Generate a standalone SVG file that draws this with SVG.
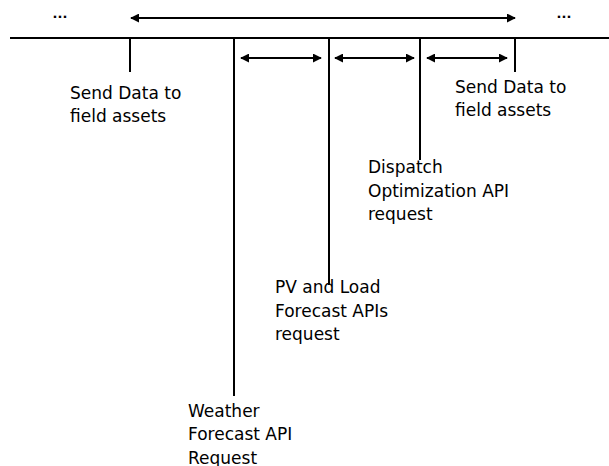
<svg xmlns="http://www.w3.org/2000/svg" width="609" height="466" viewBox="0 0 609 466">
<style>
.ln{stroke:#000;stroke-width:2;fill:none}
.ar{stroke:#000;stroke-width:2;fill:none;marker-start:url(#a);marker-end:url(#a)}
.t{font-family:"DejaVu Sans",sans-serif;font-size:17px;fill:#000}
.d{font-family:"DejaVu Sans",sans-serif;font-size:13px;font-weight:bold;fill:#000;text-anchor:middle}
</style>
<defs>
<marker id="a" viewBox="0 0 10 10" refX="9" refY="5" markerWidth="9" markerHeight="9" markerUnits="userSpaceOnUse" orient="auto-start-reverse">
<path d="M0,0L10,5L0,10z" fill="#000"/>
</marker>
</defs>
<g id="connectors">
<line class="ln" x1="10" y1="38" x2="609" y2="38"/>
<line class="ar" x1="131" y1="18" x2="515" y2="18"/>
<line class="ar" x1="241" y1="58" x2="321" y2="58"/>
<line class="ar" x1="335" y1="58" x2="414" y2="58"/>
<line class="ar" x1="427" y1="58" x2="507" y2="58"/>
</g>
<g id="dots">
<text class="d" x="60" y="18">...</text>
<text class="d" x="564" y="18">...</text>
</g>
<g id="send1">
<line class="ln" x1="130" y1="38" x2="130" y2="72"/>
<text class="t" x="70" y="99">Send Data to</text>
<text class="t" x="70" y="122">field assets</text>
</g>
<g id="weather">
<line class="ln" x1="234" y1="38" x2="234" y2="396"/>
<text class="t" x="188" y="417">Weather</text>
<text class="t" x="188" y="440">Forecast API</text>
<text class="t" x="188" y="464">Request</text>
</g>
<g id="pv">
<line class="ln" x1="329" y1="38" x2="329" y2="285"/>
<text class="t" x="275" y="293">PV and Load</text>
<text class="t" x="275" y="317">Forecast APIs</text>
<text class="t" x="275" y="340">request</text>
</g>
<g id="dispatch">
<line class="ln" x1="420" y1="38" x2="420" y2="160"/>
<text class="t" x="368" y="173">Dispatch</text>
<text class="t" x="368" y="197">Optimization API</text>
<text class="t" x="368" y="220">request</text>
</g>
<g id="send2">
<line class="ln" x1="515" y1="38" x2="515" y2="72"/>
<text class="t" x="455" y="93">Send Data to</text>
<text class="t" x="455" y="116">field assets</text>
</g>
</svg>
